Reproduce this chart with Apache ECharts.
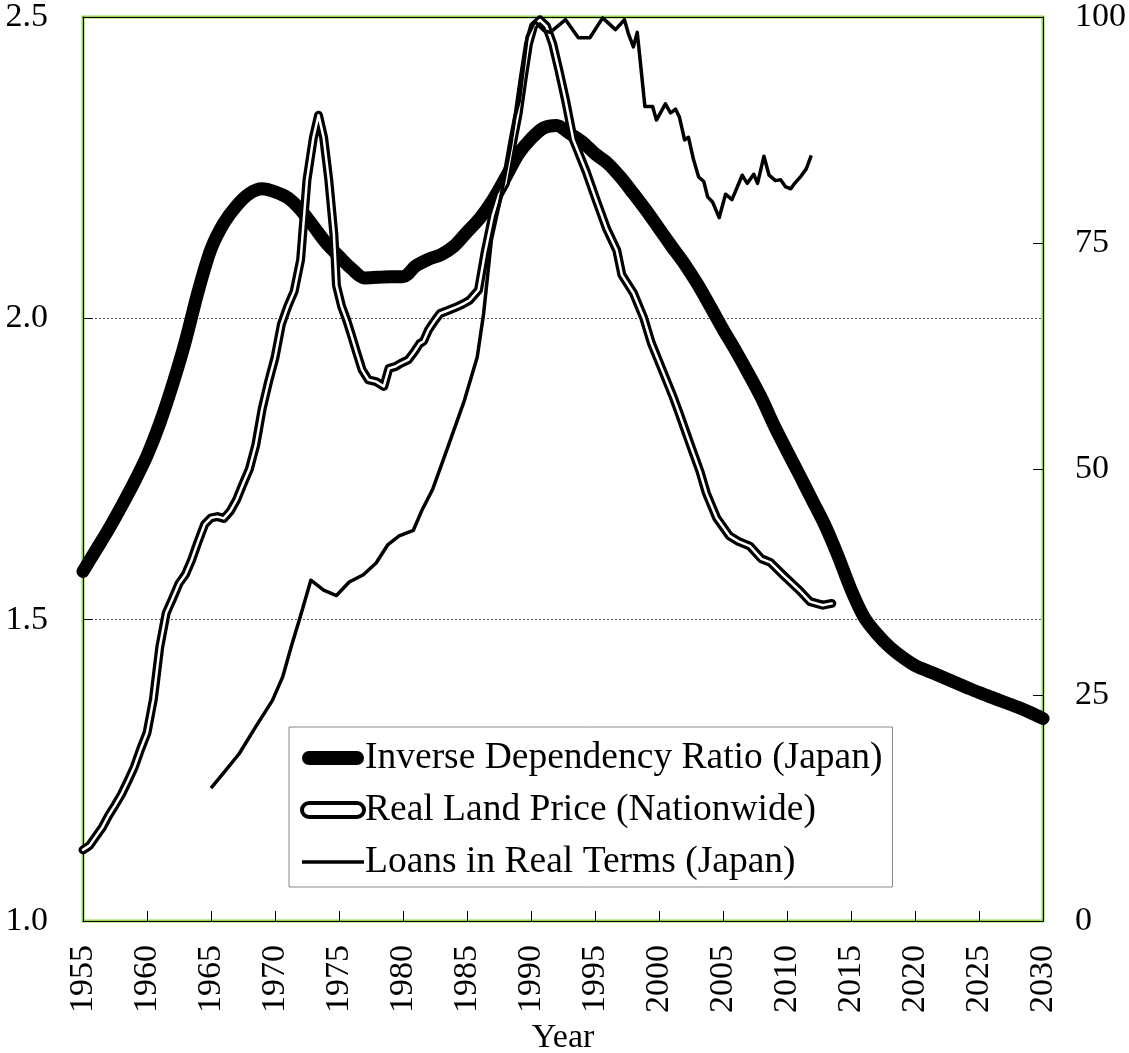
<!DOCTYPE html>
<html>
<head>
<meta charset="utf-8">
<script src="https://cdn.jsdelivr.net/npm/echarts@6/dist/echarts.min.js"></script>
<style>
  html, body { margin: 0; padding: 0; background: #fff; }
  #chart { width: 1129px; height: 1053px; }
</style>
</head>
<body>
<div id="chart"></div>
<script>
// Inverse dependency ratio (left axis), yearly
const ratioYears = [1955, 1956, 1957, 1958, 1959, 1960, 1961, 1962, 1963, 1964, 1965, 1966, 1967, 1968, 1969,
  1970, 1971, 1972, 1973, 1974, 1975, 1976, 1977, 1978, 1979, 1980, 1981, 1982, 1983, 1984, 1985,
  1986, 1987, 1988, 1989, 1990, 1991, 1992, 1993, 1994, 1995, 1996, 1997, 1998, 1999, 2000, 2001,
  2002, 2003, 2004, 2005, 2006, 2007, 2008, 2009, 2010, 2011, 2012, 2013, 2014, 2015, 2016, 2017,
  2018, 2019, 2020, 2021, 2022, 2023, 2024, 2025, 2026, 2027, 2028, 2029, 2030]
const ratioValues = [1.58, 1.615, 1.65, 1.688, 1.728, 1.772, 1.826, 1.89, 1.962, 2.045, 2.115, 2.158, 2.187, 2.207, 2.215,
  2.21, 2.2, 2.18, 2.153, 2.125, 2.103, 2.082, 2.067, 2.068, 2.069, 2.069, 2.087, 2.098, 2.106, 2.12, 2.143,
  2.166, 2.196, 2.233, 2.272, 2.298, 2.316, 2.32, 2.307, 2.293, 2.273, 2.257, 2.234, 2.207, 2.179, 2.149, 2.119,
  2.09, 2.057, 2.02, 1.982, 1.946, 1.908, 1.868, 1.822, 1.78, 1.739, 1.697, 1.655, 1.605, 1.55, 1.505, 1.477,
  1.455, 1.438, 1.424, 1.415, 1.406, 1.397, 1.388, 1.379, 1.371, 1.363, 1.355, 1.346, 1.336]

// Real land price (left axis), roughly semiannual
const landYears = [1955.0, 1955.5, 1956.0, 1956.5, 1957.0, 1957.5, 1958.0, 1958.5, 1959.0, 1959.5, 1960.0, 1960.5,
  1961.0, 1961.5, 1962.0, 1962.5, 1963.0, 1963.5, 1964.0, 1964.5, 1965.0, 1965.5, 1966.0, 1966.5, 1967.0, 1967.5,
  1968.0, 1968.5, 1969.0, 1969.5, 1970.0, 1970.5, 1971.0, 1971.5, 1972.0, 1972.5, 1973.0, 1973.4, 1973.8, 1974.2,
  1974.6, 1974.8, 1975.2, 1975.6, 1976.0, 1976.4, 1976.8, 1977.3, 1977.9, 1978.5, 1978.9, 1979.4, 1979.8, 1980.4,
  1980.9, 1981.3, 1981.6, 1982.0, 1982.5, 1982.9, 1983.5, 1984.2, 1984.7, 1985.2, 1985.9, 1986.4, 1987.0, 1987.5,
  1988.0, 1988.6, 1989.0, 1989.4, 1989.8, 1990.2, 1990.7, 1991.2, 1991.7, 1992.2, 1992.7, 1993.3, 1994.3, 1995.1,
  1995.9, 1996.7, 1997.1, 1998.0, 1998.8, 1999.4, 2000.3, 2001.1, 2001.6, 2002.4, 2003.2, 2003.7, 2004.5, 2005.5,
  2006.2, 2007.1, 2008.0, 2008.7, 2009.7, 2011.0, 2011.8, 2012.8, 2013.5]
const landValues = [1.118, 1.125, 1.14, 1.155, 1.175, 1.192, 1.21, 1.232, 1.255, 1.285, 1.312, 1.368,
  1.455, 1.511, 1.535, 1.56, 1.575, 1.6, 1.63, 1.658, 1.669, 1.671, 1.668, 1.68, 1.699, 1.725,
  1.75, 1.79, 1.85, 1.895, 1.935, 1.99, 2.02, 2.045, 2.097, 2.23, 2.3, 2.337, 2.3, 2.23,
  2.14, 2.055, 2.02, 1.997, 1.97, 1.942, 1.915, 1.898, 1.895, 1.887, 1.917, 1.92, 1.925, 1.931,
  1.945, 1.958, 1.962, 1.981, 1.997, 2.008, 2.013, 2.019, 2.024, 2.03, 2.047, 2.108, 2.17, 2.205,
  2.224, 2.296, 2.34, 2.4, 2.455, 2.485, 2.495, 2.485, 2.455, 2.41, 2.362, 2.297, 2.244, 2.196,
  2.149, 2.113, 2.072, 2.042, 2.001, 1.959, 1.912, 1.87, 1.841, 1.793, 1.746, 1.71, 1.669, 1.639,
  1.63, 1.622, 1.601, 1.595, 1.574, 1.548, 1.53, 1.524, 1.527]

// Loans in real terms (right axis)
const loanYears = [1965.0, 1966.0, 1967.2, 1968.5, 1969.8, 1970.6, 1971.3, 1971.9, 1972.8, 1973.8, 1974.8, 1975.8,
  1976.9, 1977.9, 1978.8, 1979.7, 1980.8, 1981.5, 1982.3, 1983.6, 1984.8, 1985.8, 1986.3, 1986.9, 1987.6, 1988.4,
  1988.75, 1989.1, 1989.7, 1990.3, 1991.0, 1991.5, 1992.7, 1993.7, 1994.6, 1995.6, 1996.6, 1997.3, 1997.6, 1998.0,
  1998.3, 1998.5, 1998.9, 1999.5, 1999.8, 2000.5, 2000.9, 2001.3, 2001.6, 2002.0, 2002.3, 2002.7, 2003.1, 2003.5,
  2003.8, 2004.2, 2004.7, 2005.2, 2005.7, 2006.5, 2006.9, 2007.4, 2007.7, 2008.2, 2008.6, 2009.1, 2009.5, 2009.9,
  2010.3, 2010.6, 2011.1, 2011.5, 2011.9]
const loanValues = [14.7, 16.4, 18.5, 21.5, 24.4, 27.0, 30.5, 33.3, 37.7, 36.6, 36.0, 37.5,
  38.3, 39.6, 41.6, 42.6, 43.2, 45.5, 47.7, 52.8, 57.6, 62.4, 67.2, 75.3, 79.8, 85.7,
  89.0, 90.8, 97.8, 99.5, 98.5, 98.3, 99.7, 97.7, 97.7, 99.9, 98.6, 99.7, 98.2, 96.7,
  98.3, 95.6, 90.1, 90.1, 88.6, 90.4, 89.4, 89.8, 88.9, 86.4, 86.7, 84.2, 82.3, 81.8,
  80.1, 79.5, 77.8, 80.4, 79.8, 82.5, 81.6, 82.6, 81.6, 84.6, 82.5, 81.9, 82.0, 81.2,
  81.0, 81.6, 82.4, 83.2, 84.7]

const xTicks = { min: 1955, max: 2030, step: 5 }
const leftTicks = { min: 1.0, max: 2.5, step: 0.5 }
const rightTicks = { min: 0, max: 100, step: 25 }

const FONT = '"Liberation Serif", "Times New Roman", serif'
const GREEN = '#92d050'

function pairs(xs, ys) {
  return xs.map(function (x, i) { return [x, ys[i]] })
}

const stadium = 'path://M7,0 L55,0 A7,7 0 0 1 55,14 L7,14 A7,7 0 0 1 7,0 Z'

const chart = echarts.init(document.getElementById('chart'), null, { renderer: 'canvas' })
chart.setOption({
  backgroundColor: '#fff',
  animation: false,
  textStyle: { fontFamily: FONT, color: '#000' },
  grid: {
    left: 83, right: 86, top: 17, bottom: 132,
    outerBoundsMode: 'none', containLabel: false,
    show: true, borderColor: GREEN, borderWidth: 3, backgroundColor: 'transparent'
  },
  legend: {
    orient: 'vertical',
    left: 289, top: 727,
    padding: [11, 10, 5, 11],
    itemGap: 12,
    itemWidth: 62, itemHeight: 14,
    borderColor: '#888', borderWidth: 1,
    backgroundColor: '#fff',
    selectedMode: false,
    textStyle: { fontFamily: FONT, fontSize: 37.5, color: '#000', lineHeight: 40, padding: [0, 0, 0, -4] },
    data: [
      { name: 'Inverse Dependency Ratio (Japan)', icon: stadium, itemStyle: { color: '#000' } },
      { name: 'Real Land Price (Nationwide)', icon: stadium, itemStyle: { color: '#fff', borderColor: '#000', borderWidth: 4 } },
      { name: 'Loans in Real Terms (Japan)', itemStyle: { opacity: 0 }, lineStyle: { color: '#000', width: 3.5 } }
    ]
  },
  xAxis: [{
    type: 'value',
    min: xTicks.min, max: xTicks.max, interval: xTicks.step,
    name: 'Year', nameLocation: 'middle', nameGap: 86,
    nameTextStyle: { fontFamily: FONT, fontSize: 34, color: '#000' },
    axisLine: { show: true, onZero: false, lineStyle: { color: '#000', width: 1 } },
    axisTick: { show: true, inside: true, length: 10, lineStyle: { color: '#000' } },
    axisLabel: {
      rotate: 90, margin: 24, fontFamily: FONT, fontSize: 34, color: '#000',
      formatter: function (v) { return String(v) }
    },
    splitLine: { show: false }
  }, {
    type: 'value', position: 'top',
    min: xTicks.min, max: xTicks.max, interval: xTicks.step,
    axisLine: { show: true, onZero: false, lineStyle: { color: '#000', width: 1 } },
    axisTick: { show: false }, axisLabel: { show: false }, splitLine: { show: false }
  }],
  yAxis: [{
    type: 'value', position: 'left',
    min: leftTicks.min, max: leftTicks.max, interval: leftTicks.step,
    axisLine: { show: true, onZero: false, lineStyle: { color: '#000', width: 1 } },
    axisTick: { show: true, inside: true, length: 10, lineStyle: { color: '#000' } },
    axisLabel: {
      margin: 35, fontFamily: FONT, fontSize: 34, color: '#000',
      formatter: function (v) { return v.toFixed(1) }
    },
    splitLine: { show: true, lineStyle: { color: '#555', width: 1, type: [2, 2] } }
  }, {
    type: 'value', position: 'right',
    min: rightTicks.min, max: rightTicks.max, interval: rightTicks.step,
    axisLine: { show: true, onZero: false, lineStyle: { color: '#000', width: 1 } },
    axisTick: { show: true, inside: true, length: 10, lineStyle: { color: '#000' } },
    axisLabel: { margin: 32, fontFamily: FONT, fontSize: 34, color: '#000' },
    splitLine: { show: false }
  }],
  series: [{
    name: 'Inverse Dependency Ratio (Japan)',
    type: 'line', yAxisIndex: 0, symbol: 'none', smooth: 0.3,
    data: pairs(ratioYears, ratioValues),
    lineStyle: { color: '#000', width: 13, cap: 'round', join: 'round' },
    itemStyle: { color: '#000' }
  }, {
    name: 'Real Land Price (Nationwide)',
    type: 'line', yAxisIndex: 0, symbol: 'none',
    data: pairs(landYears, landValues),
    lineStyle: { color: '#000', width: 9, cap: 'round', join: 'round' },
    itemStyle: { color: '#000' }
  }, {
    name: 'land-inner',
    type: 'line', yAxisIndex: 0, symbol: 'none',
    data: pairs(landYears, landValues),
    lineStyle: { color: '#fff', width: 2.5, cap: 'round', join: 'round' },
    itemStyle: { color: '#fff' }
  }, {
    name: 'Loans in Real Terms (Japan)',
    type: 'line', yAxisIndex: 1, symbol: 'none',
    data: pairs(loanYears, loanValues),
    lineStyle: { color: '#000', width: 3.5, join: 'round' },
    itemStyle: { color: '#000' }
  }]
})
</script>
</body>
</html>
